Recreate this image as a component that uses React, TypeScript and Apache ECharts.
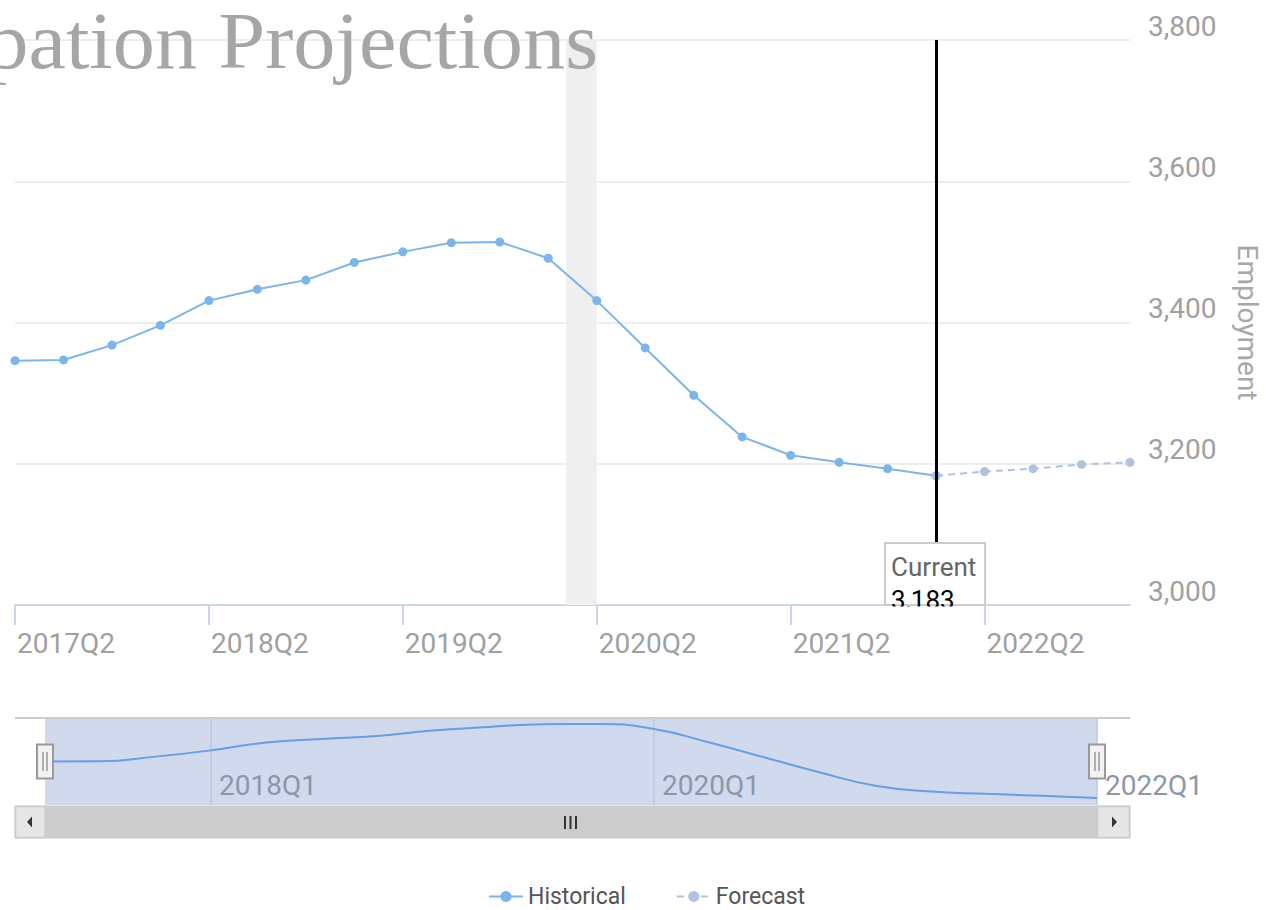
import React, { useEffect, useRef } from "react";
import * as echarts from "echarts";

const categories = [
  "2017Q2", "2017Q3", "2017Q4", "2018Q1", "2018Q2", "2018Q3", "2018Q4", "2019Q1",
  "2019Q2", "2019Q3", "2019Q4", "2020Q1", "2020Q2", "2020Q3", "2020Q4", "2021Q1",
  "2021Q2", "2021Q3", "2021Q4", "2022Q1", "2022Q2", "2022Q3", "2022Q4", "2023Q1",
];

const historical = [
  3346, 3347, 3368, 3396, 3431, 3447, 3460, 3485, 3500, 3513, 3514, 3491, 3431,
  3364, 3297, 3238, 3212, 3202, 3193, 3183,
];

const forecast = [
  null, null, null, null, null, null, null, null, null, null, null, null, null,
  null, null, null, null, null, null, 3183, 3189, 3193, 3199, 3202,
];

// recession shading, in quarter-index units on the x axis
const recessionBand = [11.37, 12.0];

const yTicks = { min: 3000, max: 3800, interval: 200 };
const navigatorRange = { min: 3152, max: 3536 };

const currentIndex = 19;
const titleText = "Occupation Projections";

const FONT = "Roboto";

export default function App() {
  const ref = useRef<HTMLDivElement>(null);

  useEffect(() => {
    if (!ref.current) return;
    document.body.style.margin = "0";
    const chart = echarts.init(ref.current, null, { renderer: "svg" });
    const fmt = (v: number) => v.toLocaleString("en-US");

    const option: any = {
      animation: false,
      textStyle: { fontFamily: FONT },
      grid: [
        { left: 15, top: 40, width: 1115, height: 565, outerBoundsMode: "none", containLabel: false },
        {
          left: 45, top: 719, width: 1052, height: 86, show: true,
          backgroundColor: "#d1daed", borderWidth: 0, outerBoundsMode: "none", containLabel: false,
        },
      ],
      xAxis: [
        {
          type: "category", gridIndex: 0, data: categories, boundaryGap: false,
          axisLine: { lineStyle: { color: "#ccd6eb", width: 2 } },
          axisTick: {
            show: true, length: 20, interval: (i: number) => i % 4 === 0,
            lineStyle: { color: "#ccd6eb", width: 2 },
          },
          axisLabel: {
            interval: (i: number) => i % 4 === 0, align: "left", margin: 24,
            padding: [0, 0, 0, 2],
            fontSize: 28, color: "#a0a0a0", fontFamily: FONT,
          },
          splitLine: { show: false },
        },
        { type: "value", gridIndex: 0, min: 0, max: categories.length - 1, show: false },
        {
          type: "category", gridIndex: 1, data: categories.slice(0, historical.length),
          boundaryGap: false,
          axisLine: { show: false }, axisTick: { show: false },
          splitLine: {
            show: true, interval: (i: number) => i % 8 === 3,
            lineStyle: { color: "#bdc7da", width: 1.5 },
          },
          axisLabel: {
            show: true, inside: true, interval: (i: number) => i % 8 === 3,
            align: "left", margin: 6, padding: [0, 0, 0, 8],
            fontSize: 28, fontFamily: FONT,
            color: (_v: any, i: number) => (i === historical.length - 1 ? "#9a9a9a" : "#8d96a8"),
            showMaxLabel: true,
          },
        },
      ],
      yAxis: [
        {
          type: "value", gridIndex: 0, position: "right",
          min: yTicks.min, max: yTicks.max, interval: yTicks.interval,
          axisLine: { show: false }, axisTick: { show: false },
          splitLine: { lineStyle: { color: "#eeeeee", width: 2 } },
          axisLabel: {
            formatter: fmt, margin: 18, verticalAlign: "bottom",
            fontSize: 28, color: "#a0a0a0", fontFamily: FONT,
          },
          name: "Employment", nameLocation: "middle", nameRotate: -90, nameGap: 103,
          nameTextStyle: { fontSize: 28, color: "#a8a8a8", fontFamily: FONT },
        },
        {
          type: "value", gridIndex: 1, min: navigatorRange.min, max: navigatorRange.max,
          show: false,
        },
      ],
      legend: {
        data: ["Historical", "Forecast"], left: 483, top: 880,
        itemWidth: 34, itemHeight: 14, itemGap: 50,
        textStyle: { fontSize: 23, color: "#555", fontFamily: FONT },
      },
      series: [
        {
          type: "custom", name: "recession", xAxisIndex: 1, yAxisIndex: 0,
          data: [recessionBand], encode: { x: [0, 1] }, z: 1, silent: true,
          renderItem: (_p: any, api: any) => {
            const s = api.coord([api.value(0), yTicks.max]);
            const e = api.coord([api.value(1), yTicks.min]);
            return {
              type: "rect",
              shape: { x: s[0], y: s[1], width: e[0] - s[0], height: e[1] - s[1] },
              style: { fill: "#efefef" },
            };
          },
        },
        {
          type: "line", name: "Historical", xAxisIndex: 0, yAxisIndex: 0,
          data: historical, color: "#7cb5ec", symbol: "circle", symbolSize: 9,
          lineStyle: { width: 2, color: "#7cb5ec" }, itemStyle: { color: "#7cb5ec" }, z: 3,
        },
        {
          type: "line", name: "Forecast", xAxisIndex: 0, yAxisIndex: 0,
          data: forecast, color: "#b0c2de", symbol: "circle", symbolSize: 9,
          lineStyle: { width: 2, color: "#b0c2de", type: [7, 5] },
          itemStyle: { color: "#b0c2de" }, z: 3,
          markLine: {
            silent: true, symbol: ["none", "none"], label: { show: false },
            lineStyle: { color: "#000", width: 3, type: "solid" },
            data: [{ xAxis: categories[currentIndex] }],
          },
        },
        {
          type: "line", name: "nav", xAxisIndex: 2, yAxisIndex: 1, data: historical,
          smooth: true, showSymbol: false, symbol: "none", silent: true,
          lineStyle: { width: 2, color: "#6a9de2" }, color: "#6a9de2",
        },
      ],
    };

    chart.setOption(option);

    const pt = chart.convertToPixel({ xAxisIndex: 0, yAxisIndex: 0 }, [currentIndex, yTicks.min]) as number[];
    const cx = pt[0];
    const axisY = pt[1];
    const boxL = cx - 51;
    const boxW = 100;
    const boxTop = axisY - 62;

    const graphic: any[] = [
      {
        type: "text", x: 598, y: 41, z: 50, scaleX: 1.055, originX: 0, originY: 0,
        style: {
          text: titleText, align: "right", verticalAlign: "middle",
          font: "80px 'Liberation Serif'", fill: "#a6a6a6",
        },
      },
      // Current label box
      {
        type: "rect", z: 60,
        shape: { x: boxL, y: boxTop, width: boxW, height: 62 },
        style: { fill: "#fff", stroke: "#cccccc", lineWidth: 2 },
      },
      {
        type: "text", x: boxL + 6, y: boxTop + 24, z: 61,
        style: { text: "Current", verticalAlign: "middle", font: `26px ${FONT}`, fill: "#666" },
      },
      {
        type: "text", x: boxL + 6, y: boxTop + 57, z: 61,
        style: { text: fmt(historical[currentIndex]), verticalAlign: "middle", font: `26px ${FONT}`, fill: "#000" },
      },
      {
        type: "rect", z: 62,
        shape: { x: boxL + 1, y: axisY + 1.5, width: boxW - 4, height: 16 },
        style: { fill: "#fff" },
      },
      // navigator outline
      {
        type: "line", z: 50, shape: { x1: 15, y1: 718, x2: 1130, y2: 718 },
        style: { stroke: "#cccccc", lineWidth: 2 },
      },
      // navigator handles
      ...[45, 1097].flatMap((hx) => [
        {
          type: "rect", z: 55, shape: { x: hx - 8, y: 744.5, width: 16, height: 34 },
          style: { fill: "#f2f2f2", stroke: "#999", lineWidth: 2 },
        },
        {
          type: "line", z: 56, shape: { x1: hx - 2, y1: 752, x2: hx - 2, y2: 771 },
          style: { stroke: "#999", lineWidth: 1.5 },
        },
        {
          type: "line", z: 56, shape: { x1: hx + 2, y1: 752, x2: hx + 2, y2: 771 },
          style: { stroke: "#999", lineWidth: 1.5 },
        },
      ]),
      // scrollbar
      {
        type: "rect", z: 50, shape: { x: 15, y: 806, width: 1115, height: 32 },
        style: { fill: "#f2f2f2", stroke: "#cccccc", lineWidth: 1 },
      },
      {
        type: "rect", z: 51, shape: { x: 45, y: 806, width: 1052, height: 32 },
        style: { fill: "#cccccc" },
      },
      {
        type: "rect", z: 51, shape: { x: 15.5, y: 806.5, width: 29.5, height: 31 },
        style: { fill: "#e6e6e6", stroke: "#cccccc", lineWidth: 1.5 },
      },
      {
        type: "rect", z: 51, shape: { x: 1097.5, y: 806.5, width: 32, height: 31 },
        style: { fill: "#e6e6e6", stroke: "#cccccc", lineWidth: 1.5 },
      },
      {
        type: "polygon", z: 52, shape: { points: [[27, 822], [32, 816.5], [32, 827.5]] },
        style: { fill: "#333" },
      },
      {
        type: "polygon", z: 52, shape: { points: [[1112, 816.5], [1117, 822], [1112, 827.5]] },
        style: { fill: "#333" },
      },
      ...[565, 570.5, 576].map((rx) => ({
        type: "line", z: 52, shape: { x1: rx, y1: 816, x2: rx, y2: 829 },
        style: { stroke: "#333", lineWidth: 2 },
      })),
    ];

    chart.setOption({ graphic });

    return () => chart.dispose();
  }, []);

  return (
    <div
      ref={ref}
      style={{ position: "fixed", left: 0, top: 0, width: 1266, height: 910, background: "#fff" }}
    />
  );
}
